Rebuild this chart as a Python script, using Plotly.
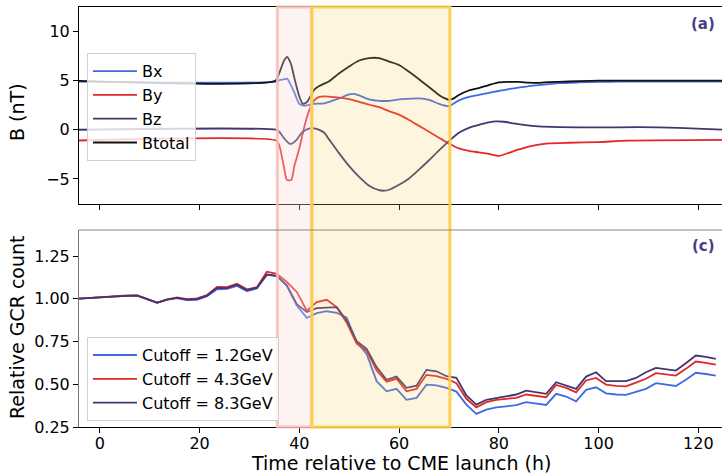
import plotly.graph_objects as go
from plotly.subplots import make_subplots

# ---------------- Magnetic field components (nT) ----------------
bx_t = [-5, 35.4, 36, 37, 37.6, 38, 39, 40, 41, 42, 43, 45, 46, 48, 50, 51, 52, 54, 56, 58,
        60, 62, 64, 66, 68, 70, 72, 74, 76, 78, 80, 82, 84, 86, 88, 90, 92, 96, 100, 104, 126]
bx_v = [4.9, 4.9, 5.05, 5.15, 5.2, 4.85, 3.8, 2.65, 2.45, 2.55, 2.65, 2.7, 2.85, 3.2, 3.6,
        3.65, 3.5, 3.1, 2.95, 2.95, 3.1, 3.15, 3.2, 3.05, 2.65, 2.4, 3.0, 3.35, 3.55, 3.75,
        3.95, 4.15, 4.3, 4.45, 4.55, 4.65, 4.75, 4.82, 4.87, 4.9, 4.9]

by_t = [-5, 35.4, 36, 37, 37.5, 38.4, 39, 40, 41, 42, 43, 44, 45, 47, 50, 52, 54, 56, 58, 60,
        62, 64, 66, 68, 70, 72, 74, 76, 78, 80, 82, 84, 86, 88, 90, 94, 100, 106, 126]
by_v = [-1.1, -1.1, -1.6, -4.0, -5.1, -5.1, -3.7, -1.9, 0.3, 2.0, 3.0, 3.35, 3.4, 3.33, 3.13,
        2.85, 2.55, 2.3, 1.9, 1.55, 1.0, 0.4, -0.2, -0.8, -1.4, -1.9, -2.15, -2.3, -2.45,
        -2.65, -2.35, -2.0, -1.7, -1.5, -1.38, -1.32, -1.25, -1.1, -1.02]

bz_t = [-5, 35.4, 36, 37, 38, 38.5, 39.5, 40.5, 41.5, 43, 44, 45, 46, 47, 48, 50, 52, 54, 56,
        57, 58, 60, 62, 64, 66, 68, 70, 72, 74, 76, 78, 79.5, 81, 83, 85, 88, 92, 100, 108,
        116, 126]
bz_v = [0.0, 0.0, -0.2, -0.9, -1.4, -1.4, -1.0, -0.3, 0.05, 0.15, 0.0, -0.3, -1.0, -1.7, -2.4,
        -3.7, -4.8, -5.7, -6.15, -6.2, -6.1, -5.6, -4.95, -4.05, -3.1, -2.1, -1.15, -0.3,
        0.2, 0.5, 0.75, 0.85, 0.82, 0.65, 0.5, 0.35, 0.28, 0.24, 0.27, 0.2, 0.0]

bt_t = [-5, 35.2, 36, 37, 37.6, 38, 38.4, 39, 40, 40.7, 41.5, 42, 43, 44, 45, 46, 48, 50, 52,
        54, 56, 58, 60, 62, 64, 66, 68, 69, 70, 71, 72, 74, 76, 78, 80, 82, 84, 86, 88, 90,
        92, 96, 100, 126]
bt_v = [5.0, 5.0, 5.8, 7.1, 7.42, 7.1, 6.6, 5.3, 3.4, 2.65, 2.8, 3.2, 4.1, 4.45, 4.7, 4.95,
        5.75, 6.45, 7.05, 7.3, 7.3, 6.95, 6.6, 5.9, 5.15, 4.35, 3.55, 3.25, 3.06, 3.2, 3.55,
        4.0, 4.25, 4.55, 4.82, 4.88, 4.87, 4.8, 4.78, 4.85, 4.88, 4.95, 5.0, 5.0]

# ---------------- Relative GCR count (2-hourly) ----------------
gcr_t = [-4.5, -2.5, -0.5, 1.5, 3.5, 5.5, 7.5, 9.5, 11.5, 13.5, 15.5, 17.5, 19.5, 21.5, 23.5,
         25.5, 27.5, 29.5, 31.5, 33.5, 35.5, 37.5, 39.5, 41.5, 43.5, 45.5, 47.5, 49.5, 51.5,
         53.5, 55.5, 57.5, 59.5, 61.5, 63.5, 65.5, 67.5, 69.5, 71.5, 73.5, 75.5, 77.5, 79.5,
         81.5, 83.5, 85.5, 87.5, 89.5, 91.5, 93.5, 95.5, 97.5, 99.5, 101.5, 103.5, 105.5,
         107.5, 109.5, 111.5, 113.5, 115.5, 117.5, 119.5, 121.5, 123.5]
cut_1p2 = [1.000, 1.004, 1.010, 1.012, 1.014, 1.017, 1.020, 0.998, 0.977, 0.995, 1.004, 0.992,
           0.994, 1.015, 1.055, 1.058, 1.075, 1.045, 1.060, 1.140, 1.132, 1.075, 0.960, 0.888,
           0.916, 0.927, 0.918, 0.889, 0.746, 0.678, 0.518, 0.459, 0.473, 0.409, 0.420, 0.498,
           0.494, 0.479, 0.457, 0.381, 0.327, 0.352, 0.365, 0.371, 0.378, 0.395, 0.387, 0.379,
           0.444, 0.428, 0.400, 0.467, 0.482, 0.447, 0.440, 0.438, 0.455, 0.473, 0.506, 0.500,
           0.490, 0.526, 0.567, 0.560, 0.551]
cut_4p3 = [1.000, 1.004, 1.010, 1.012, 1.015, 1.020, 1.020, 1.000, 0.978, 0.997, 1.008, 0.998,
           1.002, 1.022, 1.070, 1.068, 1.088, 1.055, 1.068, 1.158, 1.146, 1.098, 1.040, 0.930,
           0.980, 0.994, 0.951, 0.860, 0.737, 0.697, 0.580, 0.515, 0.532, 0.459, 0.473, 0.555,
           0.547, 0.532, 0.506, 0.415, 0.365, 0.395, 0.409, 0.415, 0.420, 0.440, 0.432, 0.424,
           0.496, 0.479, 0.453, 0.522, 0.537, 0.498, 0.490, 0.488, 0.510, 0.532, 0.565, 0.558,
           0.551, 0.590, 0.633, 0.625, 0.615]
cut_8p3 = [1.000, 1.004, 1.010, 1.012, 1.014, 1.017, 1.018, 0.998, 0.976, 0.995, 1.005, 0.995,
           0.998, 1.018, 1.063, 1.062, 1.082, 1.050, 1.064, 1.142, 1.134, 1.078, 0.968, 0.922,
           0.945, 0.948, 0.951, 0.873, 0.752, 0.707, 0.600, 0.526, 0.545, 0.479, 0.492, 0.584,
           0.576, 0.547, 0.537, 0.434, 0.381, 0.409, 0.420, 0.428, 0.440, 0.463, 0.455, 0.444,
           0.512, 0.492, 0.473, 0.545, 0.570, 0.518, 0.518, 0.518, 0.537, 0.570, 0.596, 0.590,
           0.580, 0.623, 0.668, 0.660, 0.649]

# event intervals (h)
sheath = (35.6, 42.5)
ejecta = (42.5, 70.2)

BLUE = "#4169e1"
RED = "#e32626"
PURPLE = "#45346f"
BLACK = "#111111"
FONT = "DejaVu Sans"

fig = make_subplots(rows=2, cols=1, shared_xaxes=True, vertical_spacing=0.062)

for t, v, name, col in [(bx_t, bx_v, "Bx", BLUE), (by_t, by_v, "By", RED),
                        (bz_t, bz_v, "Bz", PURPLE), (bt_t, bt_v, "Btotal", BLACK)]:
    fig.add_trace(go.Scatter(x=t, y=v, mode="lines", name=name,
                             line=dict(color=col, width=1.8, shape="spline", smoothing=0.6),
                             legend="legend"), row=1, col=1)

for v, name, col in [(cut_1p2, "Cutoff = 1.2GeV", BLUE), (cut_4p3, "Cutoff = 4.3GeV", RED),
                     (cut_8p3, "Cutoff = 8.3GeV", PURPLE)]:
    fig.add_trace(go.Scatter(x=gcr_t, y=v, mode="lines", name=name,
                             line=dict(color=col, width=1.8), legend="legend2"),
                  row=2, col=1)

# shaded intervals spanning both panels
fig.add_shape(type="rect", xref="x", yref="paper", x0=sheath[0], x1=sheath[1], y0=0, y1=1,
              fillcolor="rgba(250,219,216,0.32)", line=dict(color="rgba(245,190,180,0.85)", width=3),
              layer="above")
fig.add_shape(type="rect", xref="x", yref="paper", x0=ejecta[0], x1=ejecta[1], y0=0, y1=1,
              fillcolor="rgba(252,205,90,0.2)", line=dict(color="rgba(253,205,70,0.9)", width=3),
              layer="above")

tickfont = dict(family=FONT, size=16, color="#000")
xr = [-4.17, 124.75]
fig.update_xaxes(range=xr, tickvals=[0, 20, 40, 60, 80, 100, 120], ticks="outside", ticklen=5,
                 tickcolor="#000", showgrid=False, zeroline=False, tickfont=tickfont)
fig.update_xaxes(showline=True, linecolor="#000", linewidth=1, mirror=True,
                 showticklabels=False, row=1, col=1)
fig.update_xaxes(showline=True, linecolor="#000", linewidth=1, ticklabelstandoff=-3,
                 row=2, col=1)

fig.update_yaxes(range=[-7.55, 12.5], tickvals=[-5, 0, 5, 10], ticks="outside", ticklen=5,
                 tickcolor="#000", showgrid=False, zeroline=False, showline=True,
                 linecolor="#000", tickfont=tickfont, row=1, col=1)
fig.update_yaxes(range=[0.25, 1.402], tickvals=[0.25, 0.5, 0.75, 1.0, 1.25],
                 ticktext=["0.25", "0.50", "0.75", "1.00", "1.25"], ticks="outside", ticklen=5,
                 tickcolor="#000", showgrid=False, zeroline=False, showline=True,
                 linecolor="#777", tickfont=tickfont, row=2, col=1)

fig.update_layout(yaxis=dict(domain=[0.531, 1.0]), yaxis2=dict(domain=[0.0, 0.469]))

# top spine of the lower panel
fig.add_shape(type="line", xref="paper", yref="paper", x0=0, x1=1, y0=0.469, y1=0.469,
              line=dict(color="#888", width=1), layer="above")

legend_style = dict(bgcolor="rgba(255,255,255,0.8)", bordercolor="#d0d0d0", borderwidth=1,
                    font=dict(family=FONT, size=16, color="#000"), xanchor="left",
                    yanchor="top", tracegroupgap=0, itemwidth=44)

ann_font = dict(family=FONT, size=19, color="#000")
fig.update_layout(
    width=722, height=475,
    margin=dict(l=79, r=0, t=7, b=48),
    plot_bgcolor="white", paper_bgcolor="white",
    font=dict(family=FONT, color="#000"),
    legend=dict(x=0.0124, y=0.89, **legend_style),
    legend2=dict(x=0.0124, y=0.214, **legend_style),
    annotations=[
        dict(text="B (nT)", xref="paper", yref="paper", x=(17 - 79) / 643, y=1 - (112 - 7) / 420,
             textangle=-90, showarrow=False, font=ann_font, xanchor="center", yanchor="middle"),
        dict(text="Relative GCR count", xref="paper", yref="paper", x=(17 - 79) / 643,
             y=1 - (327 - 7) / 420, textangle=-90, showarrow=False, font=ann_font,
             xanchor="center", yanchor="middle"),
        dict(text="Time relative to CME launch (h)", xref="paper", yref="paper", x=0.5,
             y=(427 - 463) / 420, showarrow=False, font=ann_font, xanchor="center",
             yanchor="middle"),
        dict(text="<b>(a)</b>", xref="paper", yref="paper", x=(703 - 79) / 643,
             y=1 - (24 - 7) / 420, showarrow=False, xanchor="center", yanchor="middle",
             font=dict(family=FONT, size=15, color="#483d8b")),
        dict(text="<b>(c)</b>", xref="paper", yref="paper", x=(703 - 79) / 643,
             y=1 - (246 - 7) / 420, showarrow=False, xanchor="center", yanchor="middle",
             font=dict(family=FONT, size=15, color="#483d8b")),
    ],
)

fig.write_html("out.html")
